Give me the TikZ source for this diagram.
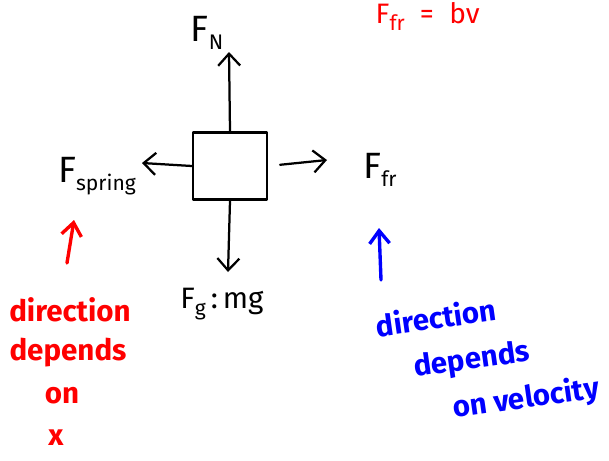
\documentclass[tikz,border=0pt]{standalone}
\usepackage{fontspec}
\setmainfont{Fira Sans}
\usepackage{tikz}
\usetikzlibrary{positioning,arrows.meta}
\usepackage{xcolor}
\definecolor{pen}{HTML}{000000}
\definecolor{redpen}{HTML}{FF0000}
\definecolor{bluepen}{HTML}{0000FF}
\newcommand{\sbs}[1]{\raisebox{-0.45ex}{\fontsize{15}{15}\selectfont #1}}

\begin{document}
\begin{tikzpicture}[x=0.025cm, y=-0.025cm, line cap=round, line join=round,
      hand/.style={line width=1.6pt},
      force/.style={hand, -{Straight Barb[length=3mm, width=5.5mm, line width=1.6pt]}},
      marker/.style={line width=2.4pt, -{Straight Barb[length=3.2mm, width=5mm, line width=2.4pt]}},
      lbl/.style={inner sep=1pt, font=\fontsize{26}{28}\selectfont, text=pen},
      note/.style={inner sep=0pt, font=\fontsize{21}{23}\selectfont\bfseries}]
    \useasboundingbox (0,0) rectangle (609,460);
    \node[draw, hand, minimum width=1.85cm, minimum height=1.68cm] (box) at (230,166) {};
    % force labels
    \node[lbl] (fN) at (207,33) {F\sbs{N}};
    \node[lbl] (fS) at (97,176) {F\sbs{spring}};
    \node[lbl] (fR) at (380,170) {F\sbs{fr}};
    \node[lbl, font=\fontsize{21}{23}\selectfont] (fG) at (222,304) {F\sbs{g}\,:\,mg};
    \node[lbl, text=redpen, font=\fontsize{20}{22}\selectfont, anchor=north west] (fTop) at (374,1) {F\sbs{fr} \;=\; bv};
    \coordinate (tipN) at (229,52);
    \coordinate (tipW) at (142,163);
    \coordinate (tipE) at (327,160);
    \coordinate (tipS) at (228,272);
    \draw[force] (box.north) -- (tipN);
    \draw[force] (box.west) -- (tipW);
    \draw[force, shorten <=0.3cm] (box.east) -- (tipE);
    \draw[force] (box.south) -- (tipS);
    % notes
    \node[note, text=redpen] (rA) at (70,310) {direction};
    \node[note, text=redpen] (rB) at (68,353) {depends};
    \node[note, text=redpen] (rC) at (62,396) {on};
    \node[note, text=redpen] (rD) at (56,438) {x};
    \coordinate (redTip) at (74,220);
    \coordinate (redTail) at (67,263);
    \draw[marker, draw=redpen] (redTail) -- (redTip);
    \node[note, text=bluepen, rotate=8] (bA) at (436,317) {direction};
    \node[note, text=bluepen, rotate=8] (bB) at (472,361) {depends};
    \node[note, text=bluepen, rotate=8] (bC) at (526,399) {on velocity};
    \coordinate (blueTip) at (379,228);
    \coordinate (blueTail) at (381,280);
    \draw[marker, draw=bluepen] (blueTail) -- (blueTip);
  \end{tikzpicture}
\end{document}
